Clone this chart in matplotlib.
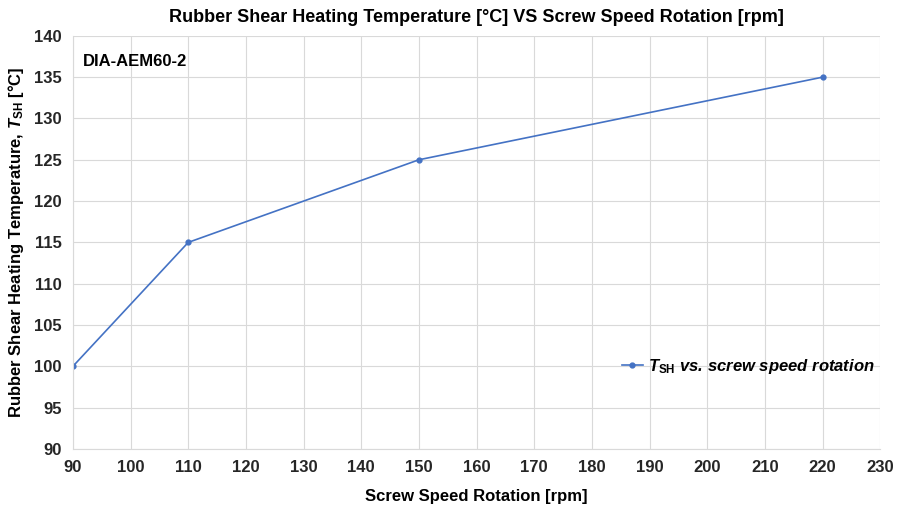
import matplotlib.pyplot as plt

speed = [90, 110, 150, 220]
temp = [100, 115, 125, 135]
x_ticks = list(range(90, 231, 10))
y_ticks = list(range(90, 141, 5))

plt.rcParams["font.family"] = ["Liberation Sans", "DejaVu Sans"]
plt.rcParams["font.weight"] = "bold"
plt.rcParams["mathtext.fontset"] = "custom"
plt.rcParams["mathtext.rm"] = "Liberation Sans:bold"
plt.rcParams["mathtext.it"] = "Liberation Sans:bold:italic"
plt.rcParams["mathtext.bf"] = "Liberation Sans:bold"

fig = plt.figure(figsize=(9, 5.05), dpi=100)
ax = fig.add_axes([0.081, 0.111, 0.897, 0.818])

ax.plot(speed, temp, color="#4472C4", lw=1.2, marker="o", ms=3.5,
        label=r"$\mathit{T}_{\mathrm{SH}}$ vs. screw speed rotation")

ax.set_xlim(90, 230)
ax.set_ylim(90, 140)
ax.set_xticks(x_ticks)
ax.set_yticks(y_ticks)
ax.tick_params(length=0, labelsize=12, pad=8, colors="#262626")
ax.grid(True, color="#d9d9d9", lw=0.8)
ax.set_axisbelow(True)
for s in ["top", "right"]:
    ax.spines[s].set_visible(False)
for s in ["left", "bottom"]:
    ax.spines[s].set_color("#d9d9d9")

ax.set_title("Rubber Shear Heating Temperature [°C] VS Screw Speed Rotation [rpm]",
             fontsize=13, fontweight="bold", pad=10)
ax.set_xlabel("Screw Speed Rotation [rpm]", fontsize=12, fontweight="bold", labelpad=10)
ax.set_ylabel(r"Rubber Shear Heating Temperature, $\mathit{T}_{\mathrm{SH}}$ [°C]",
              fontsize=12, fontweight="bold", labelpad=6)
ax.text(0.012, 0.955, "DIA-AEM60-2", transform=ax.transAxes, fontsize=12,
        fontweight="bold", va="top")

leg = ax.legend(loc="center right", bbox_to_anchor=(1.012, 0.2), frameon=False,
                handlelength=1.3, handletextpad=0.3,
                prop={"style": "italic", "weight": "bold", "size": 12})

fig.savefig("out.png")
